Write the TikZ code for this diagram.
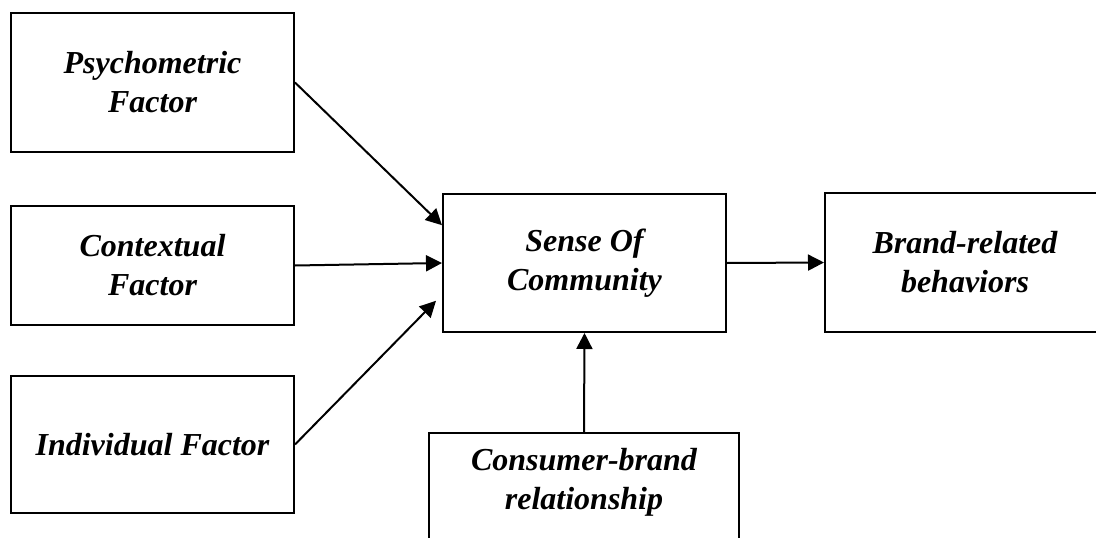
\documentclass[tikz,border=0pt]{standalone}
\usepackage{fontspec}
\setmainfont{Liberation Serif}
\usetikzlibrary{arrows.meta,calc}
\begin{document}
\begin{tikzpicture}[x=1pt,y=-1pt,
  box/.style={draw=black,line width=2pt,inner sep=0pt,align=center,
    font=\fontsize{32}{39}\selectfont\bfseries\itshape},
  flow/.style={line width=2pt,-{Triangle[length=16pt,width=16pt]}}]
  \useasboundingbox (0,0) rectangle (1096,538);
  \clip (0,0) rectangle (1096,538);

  % driver factors on the left
  \node[box,minimum width=283pt,minimum height=139pt] (psy) at (152.5,82.5) {Psychometric\\Factor};
  \node[box,minimum width=283pt,minimum height=119pt] (ctx) at (152.5,265.5) {Contextual\\Factor};
  \node[box,minimum width=283pt,minimum height=137pt] (ind) at (152.5,444.5) {Individual Factor};

  % central construct and outcome
  \node[box,minimum width=283pt,minimum height=138pt] (soc) at (584.5,263) {Sense Of\\Community};
  \node[box,minimum width=280pt,minimum height=139pt] (brb) at (965,262.5) {Brand-related\\behaviors};

  % moderator below, running off the lower edge
  \node[box,minimum width=310pt,minimum height=130pt,
    label={[align=center,font=\fontsize{32}{39}\selectfont\bfseries\itshape,yshift=16pt]center:Consumer-brand\\relationship}]
    (cbr) at (584,498) {};

  % connectors
  \coordinate (psyEnd) at ($(soc.north west)!0.23!(soc.south west)$);
  \coordinate (indEnd) at ($(soc.north west)!0.77!(soc.south west)+(-6,0)$);
  \draw[flow] (psy.east) -- (psyEnd);
  \draw[flow] (ctx.east) -- (soc.west);
  \draw[flow] (ind.east) -- (indEnd);
  \draw[flow] (soc.east) -- (brb.west);
  \draw[flow] (cbr.north) -- (soc.south);
\end{tikzpicture}
\end{document}
